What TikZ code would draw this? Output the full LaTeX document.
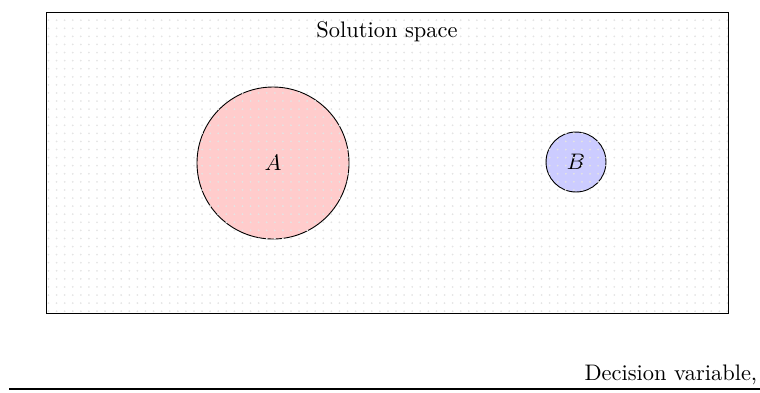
\documentclass[tikz,border=0pt]{standalone}
\usepackage{amsmath}
\usepackage{xcolor}
\definecolor{setred}{RGB}{255,204,204}
\definecolor{setblue}{RGB}{204,204,255}
\definecolor{dotgray}{RGB}{228,228,228}
\usetikzlibrary{patterns.meta, positioning}

\tikzset{
  setdisc/.style={circle, draw=black, inner sep=0pt},
}

\begin{document}
\begin{tikzpicture}[x=0.4454pt, y=-0.4454pt]
  \useasboundingbox (0,0) rectangle (760,392);

  % Sets inside the solution space
  \node[setdisc, fill=setred, minimum size=67.7pt] (setA) at (273,163) {$A$};
  \node[setdisc, fill=setblue, minimum size=26.7pt] (setB) at (576,162) {$B$};

  % Solution space -- dotted background
  \fill[pattern={Dots[distance=3.6pt, radius=0.45pt]}, pattern color=dotgray]
       (46,12) rectangle (728,313);
  \draw[black] (46,12) rectangle (728,313);
  \node (spaceLabel) at (387,32) {Solution space};

  % Decision variable axis
  \coordinate (axisL) at (9,389);
  \coordinate (axisR) at (775,389);
  \draw[thick] (axisL) -- (axisR);
  \node[anchor=south east, inner sep=1.5pt] (axisLabel) at (761,389) {Decision variable,};
\end{tikzpicture}
\end{document}
